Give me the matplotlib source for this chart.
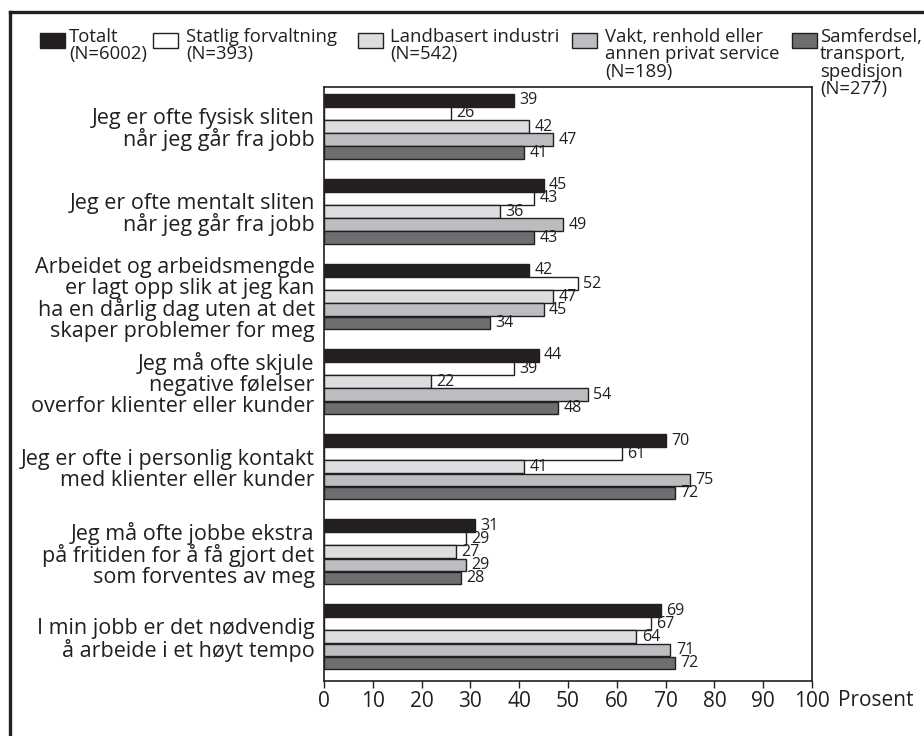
import matplotlib.pyplot as plt
from matplotlib.patches import Rectangle
from matplotlib.lines import Line2D
import numpy as np

plt.rcParams['font.family'] = ['Open Sans', 'DejaVu Sans']
INK = '#231f20'

categories = [
    "Jeg er ofte fysisk sliten\nnår jeg går fra jobb",
    "Jeg er ofte mentalt sliten\nnår jeg går fra jobb",
    "Arbeidet og arbeidsmengde\ner lagt opp slik at jeg kan\nha en dårlig dag uten at det\nskaper problemer for meg",
    "Jeg må ofte skjule\nnegative følelser\noverfor klienter eller kunder",
    "Jeg er ofte i personlig kontakt\nmed klienter eller kunder",
    "Jeg må ofte jobbe ekstra\npå fritiden for å få gjort det\nsom forventes av meg",
    "I min jobb er det nødvendig\nå arbeide i et høyt tempo",
]
series_labels = [
    "Totalt\n(N=6002)",
    "Statlig forvaltning\n(N=393)",
    "Landbasert industri\n(N=542)",
    "Vakt, renhold eller\nannen privat service\n(N=189)",
    "Samferdsel,\ntransport,\nspedisjon\n(N=277)",
]
totalt = [39, 45, 42, 44, 70, 31, 69]
statlig = [26, 43, 52, 39, 61, 29, 67]
landbasert = [42, 36, 47, 22, 41, 27, 64]
vakt = [47, 49, 45, 54, 75, 29, 71]
samferdsel = [41, 43, 34, 48, 72, 28, 72]
series = [totalt, statlig, landbasert, vakt, samferdsel]
colors = [INK, '#ffffff', '#dcddde', '#bcbdc0', '#6d6e70']
xticks = list(range(0, 101, 10))

W, H = 924, 736
fig = plt.figure(figsize=(W / 100, H / 100), dpi=100)


def px(x, y):
    return x / W, 1 - y / H


ax = fig.add_axes([324 / W, 1 - 681 / H, (812 - 324) / W, (681 - 87) / H])

pitch = 0.154
bar_h = 0.148
y0 = np.arange(len(categories))
for j, (vals, c) in enumerate(zip(series, colors)):
    ypos = y0 + (j - 2) * pitch
    ax.barh(ypos, vals, height=bar_h, color=c, edgecolor=INK, linewidth=1.0)
    for yy, v in zip(ypos, vals):
        ax.text(v + 1.1, yy, str(v), va='center', ha='left', fontsize=11.5, color=INK)

ax.set_xlim(0, 100)
ax.set_ylim(6.52, -0.465)
ax.set_xticks(xticks)
ax.set_xticklabels([str(t) for t in xticks], fontsize=15, color=INK)
ax.tick_params(axis='x', direction='out', length=5, width=1.0, color=INK, pad=2)
ax.set_yticks([])
for s in ax.spines.values():
    s.set_color(INK)
    s.set_linewidth(1.2)

for i, cat in enumerate(categories):
    ax.text(-1.9, i + 0.035, cat, ha='right', va='center', fontsize=15.5, color=INK,
            linespacing=0.98)

fig.text(*px(838, 700), "Prosent", ha='left', va='center', fontsize=15, color=INK)

# legend row across the top
patch_x = [40, 153, 358, 572, 792]
text_x = [69, 186, 390, 605, 820]
for lbl, c, xp, xt in zip(series_labels, colors, patch_x, text_x):
    fx, fy = px(xp, 48)
    fig.add_artist(Rectangle((fx, fy), 25 / W, 15 / H, transform=fig.transFigure,
                             facecolor=c, edgecolor=INK, linewidth=1.0))
    fig.text(*px(xt, 28), lbl, ha='left', va='top', fontsize=13.3, color=INK,
             linespacing=0.95)

# outer frame
fig.add_artist(Line2D([10 / W, 10 / W], [0, 1 - 12 / H], transform=fig.transFigure,
                      color=INK, linewidth=2.4))
fig.add_artist(Line2D([10 / W, 1], [1 - 12 / H, 1 - 12 / H], transform=fig.transFigure,
                      color=INK, linewidth=2.4))

fig.savefig("out.png", dpi=100)
